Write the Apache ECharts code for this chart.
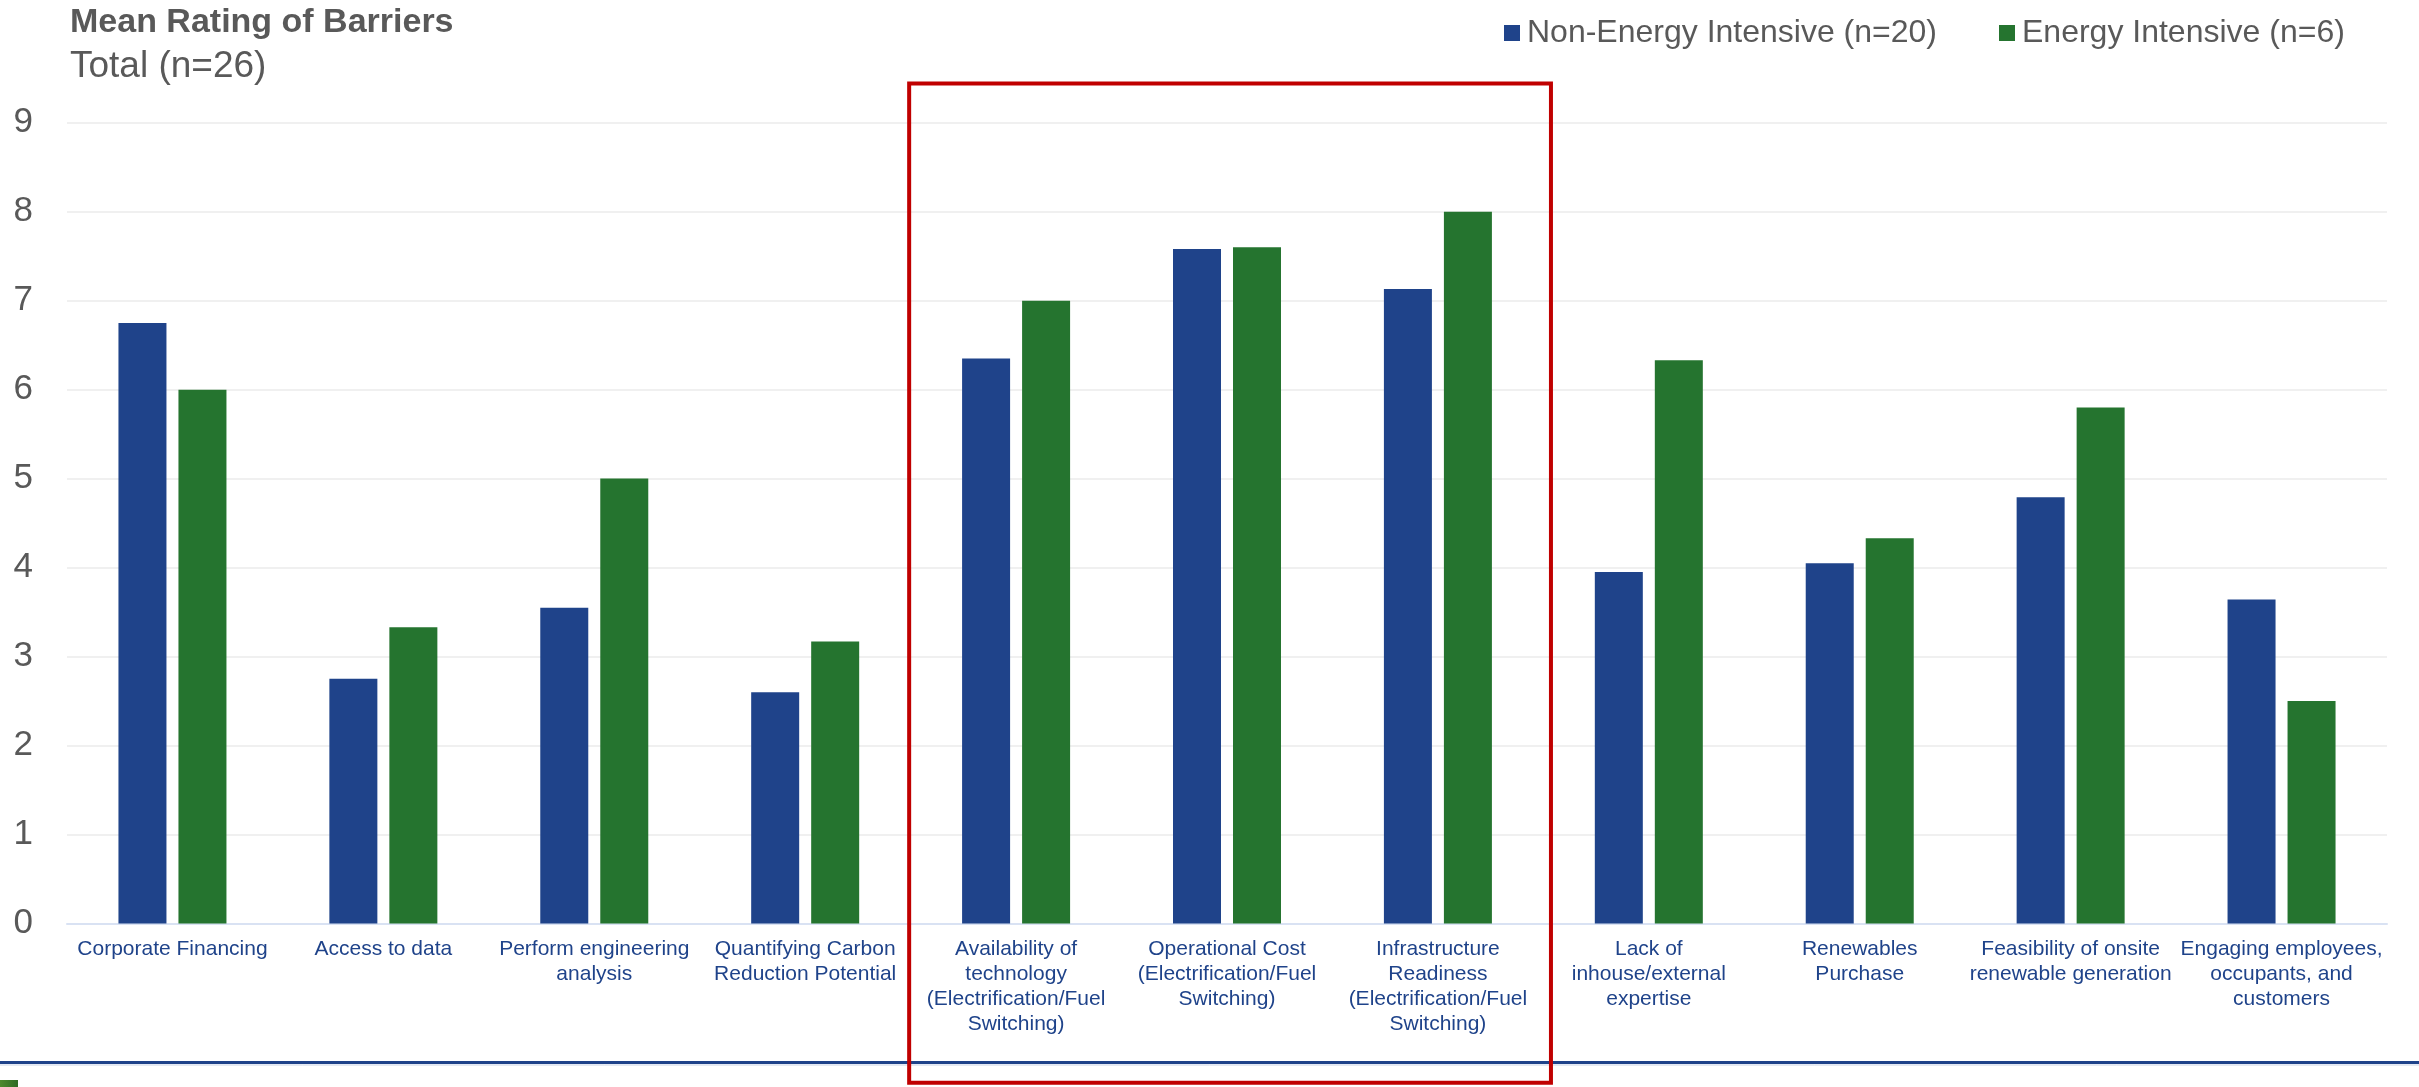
<!DOCTYPE html>
<html>
<head>
<meta charset="utf-8">
<script src="https://cdn.jsdelivr.net/npm/echarts@6/dist/echarts.min.js"></script>
<style>
html,body{margin:0;padding:0;background:#fff;}
#c{width:2419px;height:1087px;}
</style>
</head>
<body>
<div id="c"></div>
<script>
const categories = [
  "Corporate Financing",
  "Access to data",
  "Perform engineering\nanalysis",
  "Quantifying Carbon\nReduction Potential",
  "Availability of\ntechnology\n(Electrification/Fuel\nSwitching)",
  "Operational Cost\n(Electrification/Fuel\nSwitching)",
  "Infrastructure\nReadiness\n(Electrification/Fuel\nSwitching)",
  "Lack of\ninhouse/external\nexpertise",
  "Renewables\nPurchase",
  "Feasibility of onsite\nrenewable generation",
  "Engaging employees,\noccupants, and\ncustomers"
];
const nonEnergyIntensive = [6.75, 2.75, 3.55, 2.60, 6.35, 7.58, 7.13, 3.95, 4.05, 4.79, 3.64];
const energyIntensive    = [6.00, 3.33, 5.00, 3.17, 7.00, 7.60, 8.00, 6.33, 4.33, 5.80, 2.50];
const seriesNames = ["Non-Energy Intensive (n=20)", "Energy Intensive (n=6)"];
const yTicks = [0, 1, 2, 3, 4, 5, 6, 7, 8, 9];
const highlightFrom = 4, highlightTo = 6;

const FONT = "'Liberation Sans', Arial, sans-serif";
const BLUE = "#1F438A", GREEN = "#25742F", GRAY = "#595959";

const chart = echarts.init(document.getElementById('c'), null, {renderer: 'canvas'});
chart.setOption({
  animation: false,
  backgroundColor: '#ffffff',
  title: {
    text: 'Mean Rating of Barriers',
    subtext: 'Total (n=26)',
    left: 70, top: 6, itemGap: 8, padding: [0,0,0,0],
    textStyle: {fontFamily: FONT, fontSize: 34, fontWeight: 'bold', color: GRAY},
    subtextStyle: {fontFamily: FONT, fontSize: 37, color: GRAY}
  },
  legend: {
    left: 1504, top: 17, itemWidth: 16, itemHeight: 16, itemGap: 62,
    icon: 'rect', padding: 0,
    textStyle: {fontFamily: FONT, fontSize: 32, color: GRAY, padding: [0,0,0,2]},
    data: seriesNames
  },
  grid: {left: 67, right: 32, top: 122.7, bottom: 163.5, containLabel: false},
  xAxis: {
    type: 'category', data: categories,
    axisLine: {lineStyle: {color: '#D9E2F3', width: 2}},
    axisTick: {show: false},
    axisLabel: {interval: 0, margin: 13, fontFamily: FONT, fontSize: 21, lineHeight: 25, color: BLUE}
  },
  yAxis: {
    type: 'value', min: yTicks[0], max: yTicks[yTicks.length-1], interval: 1,
    axisLine: {show: false}, axisTick: {show: false},
    axisLabel: {margin: 34, fontFamily: FONT, fontSize: 35, color: GRAY,
      formatter: v => yTicks.includes(v) ? String(v) : ''},
    splitLine: {lineStyle: {color: '#F0F0F0', width: 2}}
  },
  series: [
    {name: seriesNames[0], type: 'bar', data: nonEnergyIntensive, barWidth: 48, barGap: '25%',
     itemStyle: {color: BLUE}},
    {name: seriesNames[1], type: 'bar', data: energyIntensive, barWidth: 48, barGap: '25%',
     itemStyle: {color: GREEN}}
  ]
});

// annotation box around the fuel-switching categories, positioned via the axes' scales
const c4 = chart.convertToPixel({xAxisIndex: 0}, categories[highlightFrom]);
const c5 = chart.convertToPixel({xAxisIndex: 0}, categories[highlightFrom + 1]);
const c6 = chart.convertToPixel({xAxisIndex: 0}, categories[highlightTo]);
const band = c5 - c4;
const yTop = chart.convertToPixel({yAxisIndex: 0}, 9.44);
const yBot = chart.convertToPixel({yAxisIndex: 0}, -1.79);
const x0 = c4 - 0.507 * band, x1 = c6 + 0.536 * band;

chart.setOption({
  graphic: [
    {type: 'line', shape: {x1: 0, y1: 1062.5, x2: 2419, y2: 1062.5},
     style: {stroke: '#1F438A', lineWidth: 3}, z: 10},
    {type: 'line', shape: {x1: 0, y1: 1065, x2: 2419, y2: 1065},
     style: {stroke: '#C9D3E6', lineWidth: 1}, z: 10},
    {type: 'rect', shape: {x: 0, y: 1080, width: 18, height: 7},
     style: {fill: new echarts.graphic.LinearGradient(0,0,1,0,[{offset:0,color:'#4E8A2E'},{offset:1,color:'#2E6B25'}])}, z: 10},
    {type: 'rect', shape: {x: x0, y: yTop, width: x1 - x0, height: yBot - yTop},
     style: {fill: 'none', stroke: '#C00000', lineWidth: 4}, z: 20}
  ]
});
</script>
</body>
</html>
